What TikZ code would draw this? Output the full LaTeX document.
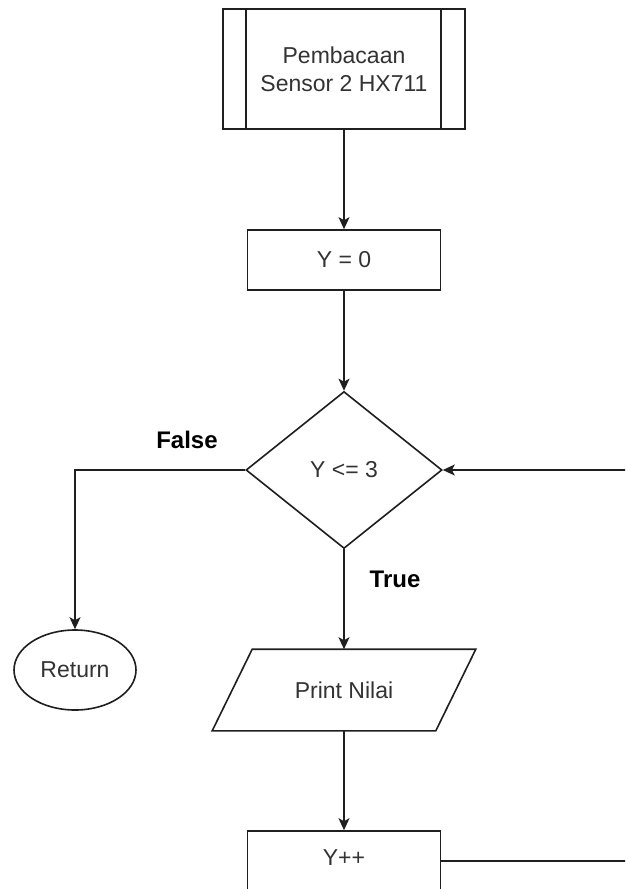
\documentclass[tikz,border=0pt]{standalone}
\usepackage{fontspec}
\setmainfont{Liberation Sans}
\usetikzlibrary{shapes.geometric,arrows.meta}
\begin{document}
\begin{tikzpicture}[x=1pt,y=-1pt,
  line width=1.6pt, draw=black!88,
  txt/.style={font=\fontsize{23}{28}\selectfont, text=black!80, align=center},
  box/.style={txt, draw=black!88, minimum width=193pt, minimum height=60pt, inner sep=0pt},
  lbl/.style={font=\fontsize{24}{29}\selectfont\bfseries, text=black},
  arr/.style={draw=black!88, -{Stealth[length=12pt,width=11pt,inset=3pt]}}]
\useasboundingbox (0,0) rectangle (625,889);
\clip (0,0) rectangle (625,889);
\fill[white] (0,0) rectangle (625,889);

% predefined process
\node[txt, draw=black!88, minimum width=242pt, minimum height=120pt, inner sep=0pt] (read) at (344,69) {Pembacaan\\Sensor 2 HX711};
\draw ([xshift=24pt]read.north west) -- ([xshift=24pt]read.south west);
\draw ([xshift=-25pt]read.north east) -- ([xshift=-25pt]read.south east);

\node[box] (y0) at (344,260) {Y = 0};

\node[txt, draw=black!88, shape=diamond, minimum width=196pt, minimum height=157pt, inner sep=0pt] (dec) at (344,470) {Y <= 3};

\node[txt, draw=black!88, shape=ellipse, minimum width=122pt, minimum height=80pt, inner sep=0pt] (ret) at (75,670) {Return};

\node[txt, minimum width=262pt, minimum height=80pt, inner sep=0pt] (print) at (344,690) {Print Nilai};
\draw ([xshift=40pt]print.north west) -- (print.north east) -- ([xshift=-40pt]print.south east) -- (print.south west) -- cycle;

\node[box] (inc) at (344,861) {};
\node[txt, anchor=center] (inctxt) at (344,858) {Y++};

\coordinate (loop) at (680,861);

% labels
\node[lbl] (lfalse) at (187,440) {False};
\node[lbl] (ltrue) at (395,579) {True};

% connectors
\draw[arr] (read.south) -- (read.south |- y0.north);
\draw[arr] (y0.south) -- (y0.south |- dec.north);
\draw[arr] (dec.west) -| (ret.north);
\draw[arr] (dec.south) -- (print.north);
\draw[arr] (print.south) -- (inc.north);
\draw[arr] (inc.east) -- (loop) |- (dec.east);
\end{tikzpicture}
\end{document}
